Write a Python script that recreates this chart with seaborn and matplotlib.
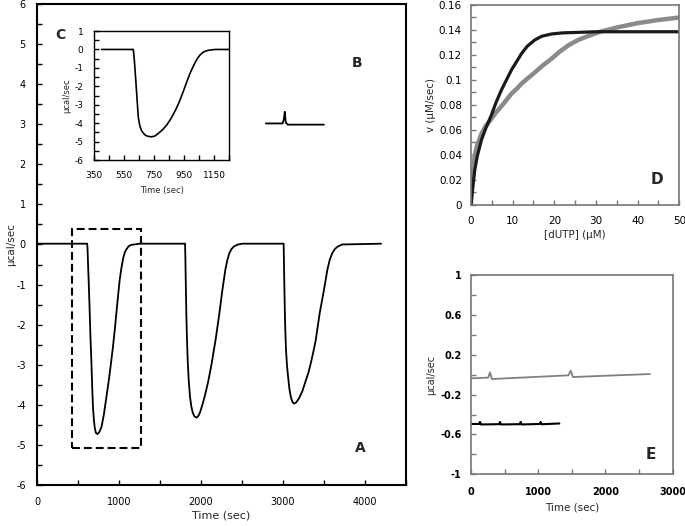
import numpy as np
import pandas as pd
import seaborn as sns
import matplotlib.pyplot as plt
from matplotlib.patches import Rectangle
from matplotlib.ticker import MultipleLocator, FuncFormatter

sns.set_style("ticks")
plt.rcParams['font.family'] = ['DejaVu Sans']
plt.rcParams['axes.unicode_minus'] = False

# Panel A: ITC trace, three injections (time in sec, heat in ucal/sec)
a_time = [0, 612, 616, 622, 630, 640, 652, 664, 674, 684, 695, 705, 718, 737, 760, 787, 815, 847, 875, 900,
          925, 948, 978, 1008, 1030, 1050, 1070, 1090, 1120, 1150, 1250,
          1806, 1810, 1815, 1821, 1828, 1838, 1850, 1866, 1883, 1900, 1920, 1948, 1970, 1990, 2020, 2050,
          2090, 2130, 2180, 2224, 2260, 2296, 2320, 2345, 2370, 2400, 2450, 2507,
          3008, 3012, 3018, 3026, 3036, 3048, 3062, 3078, 3095, 3115, 3135, 3160, 3195, 3236, 3277, 3310,
          3338, 3370, 3399, 3447, 3499, 3540, 3570, 3600, 3630, 3661, 3720, 4196]
a_heat = [0.02, 0.02, -0.1, -0.45, -0.9, -1.5, -2.3, -2.96, -3.6, -4.1, -4.4, -4.58, -4.7, -4.73, -4.68,
          -4.55, -4.25, -3.8, -3.4, -3.0, -2.58, -2.14, -1.5, -0.89, -0.58, -0.35, -0.2, -0.12, -0.04,
          -0.01, 0.02,
          0.02, -0.4, -1.0, -1.7, -2.3, -2.9, -3.38, -3.8, -4.05, -4.2, -4.29, -4.32, -4.27, -4.18, -3.98,
          -3.75, -3.4, -2.97, -2.35, -1.72, -1.15, -0.64, -0.4, -0.22, -0.12, -0.05, 0.0, 0.02,
          0.02, -0.5, -1.2, -2.0, -2.6, -3.0, -3.3, -3.6, -3.8, -3.93, -3.97, -3.94, -3.84, -3.66, -3.4,
          -3.2, -2.97, -2.68, -2.39, -1.72, -1.14, -0.64, -0.38, -0.22, -0.12, -0.06, 0.0, 0.02]

# trace B (drawn in panel A's coordinates)
b_time = [2791, 2995, 3010, 3022, 3034, 3060, 3499]
b_heat = [3.02, 3.02, 3.12, 3.31, 3.04, 2.99, 2.99]

# zoom window shown in inset C
box_t = (430, 1270)
box_h = (-5.07, 0.38)

# Inset C: first injection enlarged
c_time = [401, 612, 616, 622, 630, 638, 645, 652, 657, 668, 680, 692, 705, 720, 735, 755, 780, 808, 835,
          858, 880, 902, 923, 942, 960, 975, 990, 1008, 1025, 1040, 1057, 1073, 1090, 1105, 1123, 1160, 1248]
c_heat = [0.0, 0.0, -0.3, -0.9, -1.84, -2.8, -3.65, -4.0, -4.19, -4.42, -4.55, -4.65, -4.7, -4.73, -4.74,
          -4.7, -4.55, -4.35, -4.1, -3.82, -3.5, -3.15, -2.75, -2.35, -1.95, -1.62, -1.3, -0.98, -0.7,
          -0.48, -0.3, -0.18, -0.1, -0.06, -0.03, 0.0, 0.0]

# Panel D: rate vs [dUTP]
d_conc_black = [0, 0.1, 0.4, 0.9, 1.5, 2.5, 3.5, 4.9, 6, 7.3, 8.5, 9.7, 11, 12.1, 13.5, 15.3, 17, 19.3,
                22, 25.7, 30, 40, 50]
d_rate_black = [0, 0.004, 0.013, 0.028, 0.039, 0.052, 0.061, 0.072, 0.082, 0.092, 0.1, 0.108, 0.115,
                0.121, 0.127, 0.132, 0.135, 0.1368, 0.1377, 0.1381, 0.1386, 0.1386, 0.1386]
d_conc_gray = [0, 0.1, 0.4, 0.9, 1.5, 2.5, 3.5, 4.9, 6, 7.3, 8.5, 9.7, 11, 12.1, 13.5, 15.3, 17, 19.3,
               21.4, 23.5, 25.7, 28, 31, 35, 40, 45, 50]
d_rate_gray = [0, 0.01, 0.024, 0.04, 0.048, 0.057, 0.063, 0.069, 0.074, 0.079, 0.084, 0.089, 0.093,
               0.097, 0.101, 0.106, 0.111, 0.117, 0.123, 0.128, 0.132, 0.135, 0.1386, 0.142, 0.1455,
               0.148, 0.150]

# Panel E: control traces
e_time_gray = [0, 255, 283, 310, 800, 1450, 1483, 1515, 2000, 2663]
e_heat_gray = [-0.037, -0.030, 0.024, -0.044, -0.028, -0.007, 0.04, -0.024, -0.011, 0.006]
e_time_black = [0, 120, 134, 150, 420, 431, 447, 725, 739, 755, 1022, 1036, 1052, 1314]
e_heat_black = [-0.495, -0.495, -0.475, -0.5, -0.497, -0.475, -0.5, -0.497, -0.475, -0.5, -0.495,
                -0.475, -0.498, -0.49]

fig = plt.figure(figsize=(6.85, 5.26), dpi=100)


def style_axes(ax, color='black', lw=1.3, size=7, xpad=9, ypad=8, bold=False):
    for s in ax.spines.values():
        s.set_visible(True)
        s.set_color(color)
        s.set_linewidth(lw)
    ax.tick_params(which='both', direction='in', length=3.5, width=1, colors=color,
                   labelcolor='black', labelsize=size)
    ax.tick_params(axis='x', pad=xpad)
    ax.tick_params(axis='y', pad=ypad)
    if bold:
        for lab in ax.get_xticklabels() + ax.get_yticklabels():
            lab.set_fontweight('bold')


# ---- Panel A
axA = fig.add_axes([0.054, 0.078, 0.5387, 0.9144])
sns.lineplot(x=a_time, y=a_heat, ax=axA, color='black', lw=1.3, estimator=None, sort=False)
sns.lineplot(x=b_time, y=b_heat, ax=axA, color='black', lw=1.3, estimator=None, sort=False)
axA.set_xlim(0, 4500)
axA.set_ylim(-6, 6)
axA.xaxis.set_major_locator(MultipleLocator(1000))
axA.xaxis.set_minor_locator(MultipleLocator(500))
axA.yaxis.set_major_locator(MultipleLocator(1))
axA.yaxis.set_minor_locator(MultipleLocator(0.5))
style_axes(axA, lw=1.5, size=7, xpad=9, ypad=8)
axA.set_xlabel("Time (sec)", fontsize=8, labelpad=2)
axA.set_ylabel("µcal/sec", fontsize=7.5)
axA.yaxis.set_label_coords(-0.056, 0.5)
axA.add_patch(Rectangle((box_t[0], box_h[0]), box_t[1] - box_t[0], box_h[1] - box_h[0],
                        fill=False, ls=(0, (3.8, 1.9)), lw=1.5, color='black'))
axA.text(3945, -5.08, "A", fontsize=10, fontweight='bold', ha='center', va='center')
axA.text(280, 5.22, "C", fontsize=10, fontweight='bold', ha='center', va='center')
axA.text(3900, 4.52, "B", fontsize=10, fontweight='bold', ha='center', va='center')

# ---- Inset C
axC = fig.add_axes([0.1372, 0.6958, 0.1971, 0.2452])
sns.lineplot(x=c_time, y=c_heat, ax=axC, color='black', lw=1.2, estimator=None, sort=False)
axC.set_xlim(350, 1250)
axC.set_ylim(-6, 1)
axC.set_xticks([350, 550, 750, 950, 1150])
axC.xaxis.set_minor_locator(MultipleLocator(100, offset=50))
axC.yaxis.set_major_locator(MultipleLocator(1))
axC.yaxis.set_minor_locator(MultipleLocator(0.5))
style_axes(axC, lw=1.0, size=6.5, xpad=8, ypad=7.5)
axC.set_xlabel("Time (sec)", fontsize=6, labelpad=4)
axC.set_ylabel("µcal/sec", fontsize=6)
axC.yaxis.set_label_coords(-0.17, 0.5)

# ---- Panel D
axD = fig.add_axes([0.6876, 0.6103, 0.3041, 0.3802])
sns.lineplot(x=d_conc_gray, y=d_rate_gray, ax=axD, color='#8a8a8a', lw=3.2, estimator=None, sort=False)
sns.lineplot(x=d_conc_black, y=d_rate_black, ax=axD, color='#1a1a1a', lw=2.3, estimator=None, sort=False)
axD.set_xlim(0, 50)
axD.set_ylim(0, 0.16)
axD.xaxis.set_major_locator(MultipleLocator(10))
axD.xaxis.set_minor_locator(MultipleLocator(5))
axD.yaxis.set_major_locator(MultipleLocator(0.02))
axD.yaxis.set_minor_locator(MultipleLocator(0.01))
axD.yaxis.set_major_formatter(FuncFormatter(lambda v, p: f"{v:g}"))
style_axes(axD, color='#777777', lw=1.2, size=7.5, xpad=8, ypad=6.5)
axD.set_xlabel("[dUTP] (µM)", fontsize=7.5, labelpad=3)
axD.set_ylabel("v (µM/sec)", fontsize=7.5)
axD.yaxis.set_label_coords(-0.168, 0.5)
axD.text(44.6, 0.02, "D", fontsize=11, fontweight='bold', ha='center', va='center')

# ---- Panel E
axE = fig.add_axes([0.6876, 0.0983, 0.2944, 0.3789])
sns.lineplot(x=e_time_gray, y=e_heat_gray, ax=axE, color='#808080', lw=1.3, estimator=None, sort=False)
sns.lineplot(x=e_time_black, y=e_heat_black, ax=axE, color='black', lw=1.5, estimator=None, sort=False)
axE.set_xlim(0, 3000)
axE.set_ylim(-1, 1)
axE.xaxis.set_major_locator(MultipleLocator(1000))
axE.xaxis.set_minor_locator(MultipleLocator(500))
axE.set_yticks([-1, -0.6, -0.2, 0.2, 0.6, 1])
axE.yaxis.set_minor_locator(MultipleLocator(0.2))
axE.yaxis.set_major_formatter(FuncFormatter(lambda v, p: f"{v:g}"))
style_axes(axE, color='#777777', lw=1.2, size=7, xpad=9, ypad=6.7, bold=True)
axE.set_xlabel("Time (sec)", fontsize=7.5, labelpad=4)
axE.set_ylabel("µcal/sec", fontsize=7)
axE.yaxis.set_label_coords(-0.174, 0.5)
axE.text(2679, -0.80, "E", fontsize=11, fontweight='bold', ha='center', va='center')

fig.savefig("out.png", dpi=100)
